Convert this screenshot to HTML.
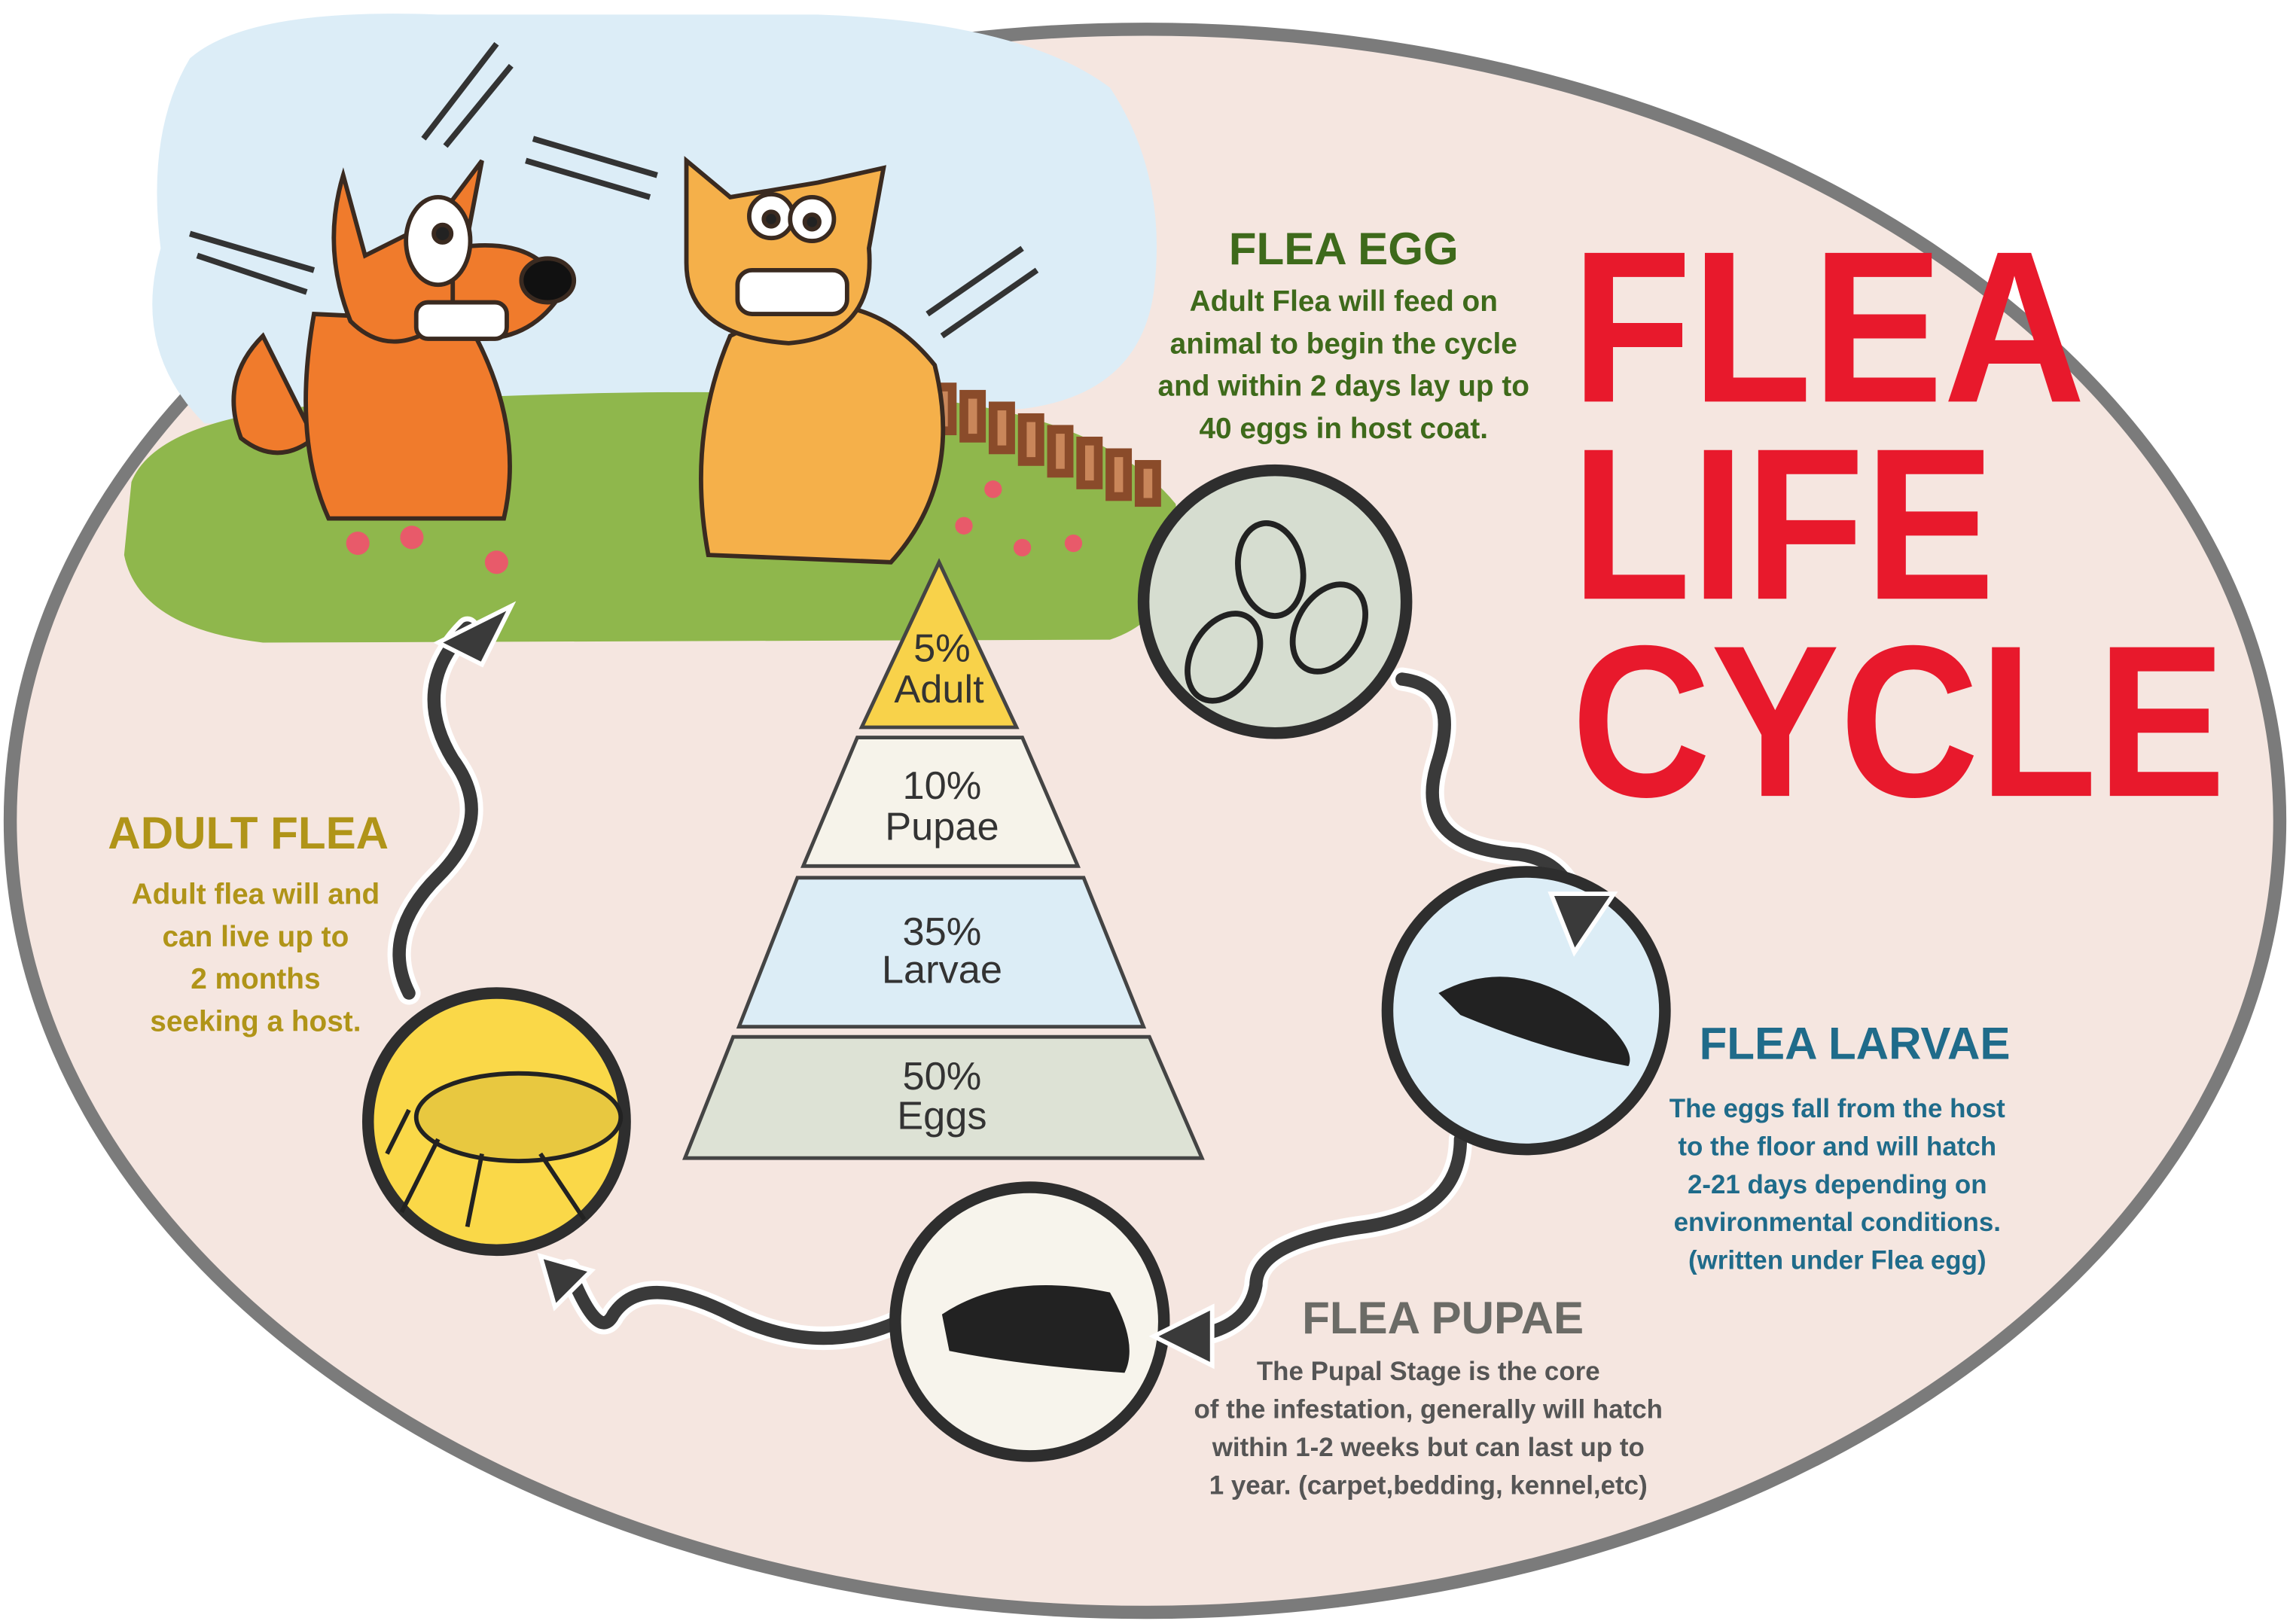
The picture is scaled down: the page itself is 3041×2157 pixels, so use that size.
<!DOCTYPE html>
<html><head><meta charset="utf-8"><style>
html,body{margin:0;padding:0;background:#fff;}
svg{display:block;}
text{font-family:"Liberation Sans",sans-serif;font-weight:bold;}
text.n{font-weight:normal;}
</style></head><body>
<svg width="3041" height="2157" viewBox="0 0 1568 1112" preserveAspectRatio="none" xmlns="http://www.w3.org/2000/svg">
<rect width="1568" height="1112" fill="#fff"/>
<ellipse cx="784" cy="562" rx="777" ry="542" fill="#f5e6e0" stroke="#7b7b7b" stroke-width="9"/>
<path d="M130,40 Q170,5 300,10 L560,10 Q700,15 760,60 Q800,120 790,200 Q780,270 700,280 L140,290 Q90,240 110,170 Q100,90 130,40Z" fill="#dcedf7"/>
<path d="M90,330 Q110,280 260,275 Q500,262 650,275 Q760,290 805,345 Q815,420 760,438 L180,440 Q95,430 85,380Z" fill="#8fb74c"/>
<g stroke="#8a4b2a" stroke-width="6" fill="#c9865a">
<rect x="640" y="265" width="12" height="30"/><rect x="660" y="270" width="12" height="30"/><rect x="680" y="278" width="12" height="30"/><rect x="700" y="286" width="12" height="30"/><rect x="720" y="294" width="12" height="30"/><rect x="740" y="302" width="12" height="30"/><rect x="760" y="310" width="12" height="30"/><rect x="780" y="318" width="12" height="26"/>
</g>
<g stroke="#333" stroke-width="4" fill="none">
<path d="M290,95 L340,30"/><path d="M305,100 L350,45"/>
<path d="M130,160 L215,185"/><path d="M135,175 L210,200"/>
<path d="M365,95 L450,120"/><path d="M360,110 L445,135"/>
<path d="M635,215 L700,170"/><path d="M645,230 L710,185"/>
</g>
<g stroke="#3a2a20" stroke-width="3">
<path d="M180,230 Q150,260 165,300 Q190,320 215,300Z" fill="#f07b2c"/>
<path d="M215,215 Q200,300 225,355 L345,355 Q360,290 320,220Z" fill="#f07b2c"/>
<path d="M235,120 L250,175 L300,150 L330,110 L310,215 Q270,250 240,220 Q220,170 235,120Z" fill="#f07b2c"/>
<path d="M310,170 Q370,160 385,200 Q360,240 310,230Z" fill="#f07b2c"/>
<ellipse cx="300" cy="165" rx="22" ry="30" fill="#fff"/><circle cx="303" cy="160" r="6" fill="#222"/>
<ellipse cx="375" cy="192" rx="18" ry="15" fill="#111"/>
<rect x="285" y="207" width="62" height="25" rx="8" fill="#fff"/>
</g>
<g stroke="#3a2a20" stroke-width="3">
<path d="M500,230 Q470,300 485,380 L610,385 Q660,330 640,250 Q600,200 540,210Z" fill="#f5b04a"/>
<path d="M470,110 L500,135 L560,125 L605,115 L595,170 Q600,230 540,235 Q470,230 470,180Z" fill="#f5b04a"/>
<circle cx="528" cy="148" r="15" fill="#fff"/><circle cx="556" cy="150" r="15" fill="#fff"/>
<circle cx="528" cy="150" r="5" fill="#222"/><circle cx="556" cy="152" r="5" fill="#222"/>
<rect x="505" y="185" width="75" height="30" rx="10" fill="#fff"/>
</g>
<g fill="#e85a6a"><circle cx="245" cy="372" r="8"/><circle cx="282" cy="368" r="8"/><circle cx="340" cy="385" r="8"/><circle cx="660" cy="360" r="6"/><circle cx="700" cy="375" r="6"/><circle cx="735" cy="372" r="6"/><circle cx="680" cy="335" r="6"/></g>
<g fill="#e8192c" font-size="148">
<text x="1076" y="275" textLength="352" lengthAdjust="spacingAndGlyphs">FLEA</text>
<text x="1076" y="410" textLength="290" lengthAdjust="spacingAndGlyphs">LIFE</text>
<text x="1076" y="545" textLength="448" lengthAdjust="spacingAndGlyphs">CYCLE</text>
</g>
<g fill="none" stroke-linecap="round">
<g stroke="#fff" stroke-width="16">
<path d="M960,465 Q1000,470 985,520 Q965,580 1040,585 Q1075,590 1080,625"/>
<path d="M1000,780 Q1000,830 935,840 Q860,850 860,880 Q855,910 815,915"/>
<path d="M615,905 Q560,930 500,900 Q440,870 420,900 Q410,920 390,870"/>
<path d="M280,680 Q260,640 300,600 Q340,560 310,520 Q280,470 320,430"/>
</g>
<g stroke="#3a3a3a" stroke-width="9">
<path d="M960,465 Q1000,470 985,520 Q965,580 1040,585 Q1075,590 1080,625"/>
<path d="M1000,780 Q1000,830 935,840 Q860,850 860,880 Q855,910 815,915"/>
<path d="M615,905 Q560,930 500,900 Q440,870 420,900 Q410,920 390,870"/>
<path d="M280,680 Q260,640 300,600 Q340,560 310,520 Q280,470 320,430"/>
</g>
</g>
<circle cx="873" cy="412" r="90" fill="#d6ddd0" stroke="#2e2e2e" stroke-width="8"/>
<g fill="none" stroke="#222" stroke-width="4">
<ellipse cx="870" cy="390" rx="22" ry="32" transform="rotate(-10 870 390)"/>
<ellipse cx="838" cy="450" rx="22" ry="32" transform="rotate(30 838 450)"/>
<ellipse cx="910" cy="430" rx="22" ry="32" transform="rotate(30 910 430)"/>
</g>
<circle cx="1045" cy="692" r="95" fill="#dcedf6" stroke="#2e2e2e" stroke-width="8"/>
<path d="M985,680 Q1040,650 1100,700 Q1120,720 1115,730 Q1060,720 1000,695Z" fill="#222"/>
<circle cx="705" cy="905" r="92" fill="#f7f4ec" stroke="#2e2e2e" stroke-width="8"/>
<path d="M645,900 Q690,870 760,885 Q780,920 770,940 Q700,935 650,925Z" fill="#222"/>
<circle cx="340" cy="768" r="88" fill="#fad848" stroke="#2e2e2e" stroke-width="8"/>
<g stroke="#222" stroke-width="3" fill="#e8c840"><ellipse cx="355" cy="765" rx="70" ry="30"/></g>
<g stroke="#222" stroke-width="3"><path d="M300,780 L275,830 M330,790 L320,840 M370,790 L400,835 M280,760 L265,790"/></g>
<g fill="#3a3a3a" stroke="#fff" stroke-width="3">
<path d="M1062,612 L1105,612 L1078,652Z"/>
<path d="M830,895 L830,935 L790,915Z"/>
<path d="M370,860 L405,870 L380,895Z"/>
<path d="M300,440 L350,415 L330,455Z"/>
</g>
<g stroke="#444" stroke-width="2.5">
<path d="M643,385 L696,498 L590,498Z" fill="#f8d24a"/>
<path d="M587,505 L700,505 L738,593 L550,593Z" fill="#f6f3ea"/>
<path d="M546,601 L742,601 L783,703 L506,703Z" fill="#dcedf6"/>
<path d="M502,710 L787,710 L823,793 L469,793Z" fill="#dde2d5"/>
</g>
<g fill="#333" font-size="27" text-anchor="middle">
<text class="n" x="645" y="453">5%</text><text class="n" x="643" y="481">Adult</text>
<text class="n" x="645" y="547">10%</text><text class="n" x="645" y="575">Pupae</text>
<text class="n" x="645" y="647">35%</text><text class="n" x="645" y="673">Larvae</text>
<text class="n" x="645" y="746">50%</text><text class="n" x="645" y="773">Eggs</text>
</g>
<g text-anchor="middle">
<text x="920" y="181" font-size="31" fill="#3e6a1b">FLEA EGG</text>
<g font-size="20" fill="#3e6a1b"><text x="920" y="213">Adult Flea will feed on</text><text x="920" y="242">animal to begin the cycle</text><text x="920" y="271">and within 2 days lay up to</text><text x="920" y="300">40 eggs in host coat.</text></g>
<text x="170" y="581" font-size="31" fill="#b09418">ADULT FLEA</text>
<g font-size="20" fill="#b09418"><text x="175" y="619">Adult flea will and</text><text x="175" y="648">can live up to</text><text x="175" y="677">2 months</text><text x="175" y="706">seeking a host.</text></g>
<text x="1270" y="725" font-size="31" fill="#1f6b8a">FLEA LARVAE</text>
<g font-size="18" fill="#1f6b8a"><text x="1258" y="765">The eggs fall from the host</text><text x="1258" y="791">to the floor and will hatch</text><text x="1258" y="817">2-21 days depending on</text><text x="1258" y="843">environmental conditions.</text><text x="1258" y="869">(written under Flea egg)</text></g>
<text x="988" y="913" font-size="31" fill="#6b6b66">FLEA PUPAE</text>
<g font-size="18" fill="#555"><text x="978" y="945">The Pupal Stage is the core</text><text x="978" y="971">of the infestation, generally will hatch</text><text x="978" y="997">within 1-2 weeks but can last up to</text><text x="978" y="1023">1 year. (carpet,bedding, kennel,etc)</text></g>
</g>
</svg>
</body></html>
